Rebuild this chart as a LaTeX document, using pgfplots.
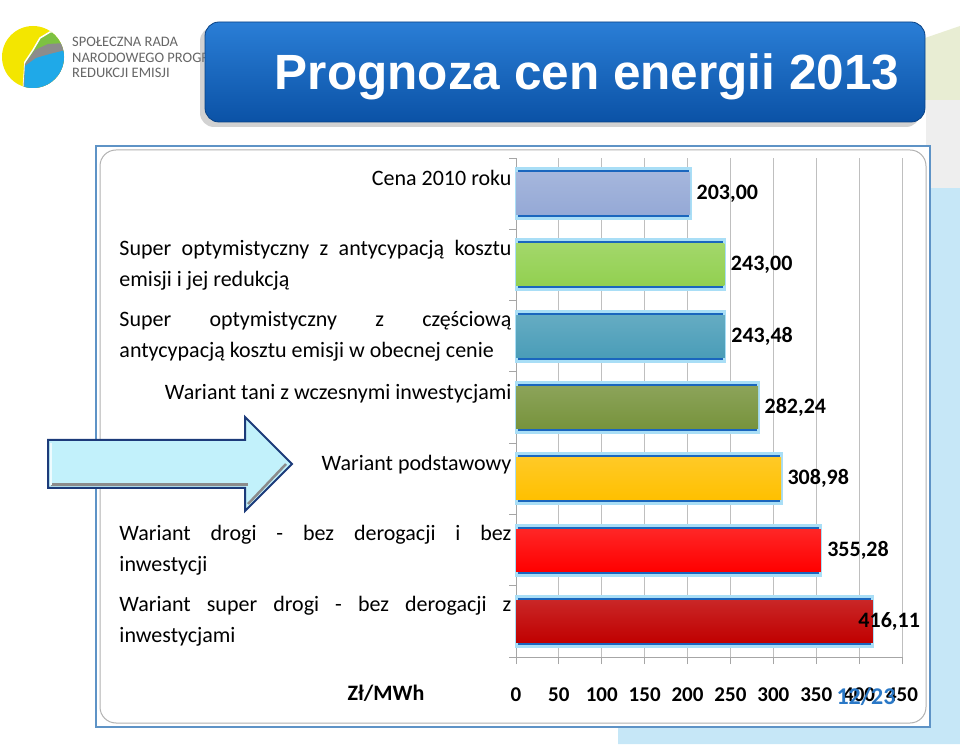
\documentclass[border=0pt]{standalone}
\usepackage{pgfplots}
\pgfplotsset{compat=1.18}
\usepackage{fontspec}
\setmainfont{Carlito}
\newfontfamily\titlefont{Liberation Sans}
\usetikzlibrary{shadows}

\definecolor{c1}{HTML}{95A9D6}
\definecolor{c2}{HTML}{92D050}
\definecolor{c3}{HTML}{4A9DB8}
\definecolor{c4}{HTML}{77933C}
\definecolor{c5}{HTML}{FFC000}
\definecolor{c6}{HTML}{FF0000}
\definecolor{c7}{HTML}{C00000}
\definecolor{barblue}{HTML}{1A66BE}
\definecolor{glow}{HTML}{A9DEF6}
\definecolor{titletop}{HTML}{2A7ED6}
\definecolor{titlebot}{HTML}{0B52A6}
\definecolor{framblue}{HTML}{5E93C6}
\definecolor{bgblue}{HTML}{C6E7F7}
\definecolor{bggray}{HTML}{EEEEEE}
\definecolor{bggreen}{HTML}{E8EDD3}
\definecolor{logoyellow}{HTML}{F3E600}
\definecolor{logoblue}{HTML}{1FA9E8}
\definecolor{logogreen}{HTML}{7DC142}
\definecolor{logogray}{HTML}{8C8C8C}
\definecolor{arrowfill}{HTML}{C2F1FB}
\definecolor{arrowdraw}{HTML}{1C3B7A}
\definecolor{pagenum}{HTML}{2A78C6}

\newcommand{\Lbl}[1]{\makebox[392pt][s]{#1}}
\newcommand{\Rbl}[1]{\makebox[392pt][r]{#1}}
\newcommand{\Fbl}[1]{\makebox[392pt][l]{#1}}

\newcommand{\mybar}[4]{%
  \addplot[fill=barblue, draw=glow, line width=3pt, bar width=0.70, forget plot] coordinates {(#2,#3)};
  \addplot[top color=#1!85!white, bottom color=#1, draw=none, bar width=0.59,
    point meta=x, nodes near coords={\pgfmathprintnumber[fixed,fixed zerofill,precision=2,use comma,assume math mode=true]{\pgfplotspointmeta}},
    nodes near coords style={font=\bfseries\fontsize{22}{22}\selectfont, anchor=west, xshift=#4, text=black}, forget plot] coordinates {(#2,#3)};
}

\begin{document}
\begin{tikzpicture}
\useasboundingbox (0pt,0pt) rectangle (960pt,744pt);
\fill[white] (0pt,0pt) rectangle (960pt,744pt);
% background decorations
\fill[bgblue] (618pt,0pt) -- (960pt,0pt) -- (960pt,556pt) -- (930pt,556pt) -- (930pt,17pt) -- (618pt,17pt) -- cycle;
\fill[bggray] (926pt,556pt) rectangle (960pt,644pt);
\fill[bggreen] (925pt,644pt) -- (960pt,644pt) -- (960pt,718pt) -- (925pt,706pt) -- cycle;

% logo
\begin{scope}
\clip (33pt,687pt) circle (31pt);
\fill[logoyellow] (0pt,650pt) rectangle (70pt,725pt);
\fill[logogreen, draw=white, line width=1.5pt] (23pt,650pt) -- (25pt,682pt) -- (33pt,694pt) -- (40pt,706pt) -- (50pt,712pt) -- (66pt,712pt) -- (66pt,650pt) -- cycle;
\fill[logogray] (25pt,680pt) -- (35pt,694pt) -- (48pt,700pt) -- (66pt,701pt) -- (66pt,650pt) -- (23pt,650pt) -- cycle;
\fill[logoblue] (25pt,678pt) -- (36pt,686pt) -- (50pt,690pt) -- (66pt,694pt) -- (66pt,650pt) -- (24pt,650pt) -- cycle;
\end{scope}
\node[anchor=west, inner sep=0pt, text=black!60, font=\fontsize{14.5}{15}\selectfont] at (72pt,702pt) {SPOŁECZNA RADA};
\node[anchor=west, inner sep=0pt, text=black!60, font=\fontsize{14.5}{15}\selectfont] at (72pt,686pt) {NARODOWEGO PROGRAMU};
\node[anchor=west, inner sep=0pt, text=black!60, font=\fontsize{14.5}{15}\selectfont] at (72pt,671pt) {REDUKCJI EMISJI};

% title box
\path[rounded corners=14pt, top color=titletop, bottom color=titlebot, draw=titlebot!80!black, line width=0.8pt,
  drop shadow={shadow xshift=-5pt, shadow yshift=-5pt, opacity=0.35}] (205pt,622pt) rectangle (925pt,722pt);
\node[anchor=base, text=white, font=\titlefont\bfseries\fontsize{49.5}{60}\selectfont] at (587pt,654pt) {Prognoza cen energii 2013};

% chart frame
\draw[framblue, line width=1.5pt, fill=white] (96pt,17pt) rectangle (930pt,598pt);
\draw[gray!60, line width=1pt, rounded corners=16pt] (100pt,21pt) rectangle (926pt,594pt);

\begin{axis}[
  at={(516pt,87pt)}, anchor=south west,
  scale only axis, width=386pt, height=499pt,
  xmin=0, xmax=450, ymin=-0.5, ymax=6.5,
  xbar, bar shift=0pt, clip=false,
  axis x line*=bottom, axis y line*=left,
  axis line style={gray!70, line width=0.9pt},
  tick align=outside, major tick length=7pt,
  tick style={gray!70, line width=0.9pt},
  xtick={0,50,...,450},
  /pgf/number format/assume math mode=true,
  /pgf/number format/fixed,
  xticklabel style={font=\bfseries\fontsize{21}{21}\selectfont, yshift=-20pt},
  xmajorgrids, grid style={gray!50, line width=0.8pt},
  ytick={-0.5,0.5,1.5,2.5,3.5,4.5,5.5,6.5},
  yticklabels={{},{},{},{},{},{},{},{}},
  extra y ticks={0,1,2,3,4,5,6},
  extra y tick labels={
    {\Lbl{Wariant super drogi - bez derogacji z}\\\Fbl{inwestycjami}},
    {\Lbl{Wariant drogi - bez derogacji i bez}\\\Fbl{inwestycji}},
    {\Rbl{Wariant podstawowy}\\\mbox{}},
    {\Rbl{Wariant tani z wczesnymi inwestycjami}\\\mbox{}},
    {\Lbl{Super optymistyczny z częściową}\\\Fbl{antycypacją kosztu emisji w obecnej cenie}},
    {\Lbl{Super optymistyczny z antycypacją kosztu}\\\Fbl{emisji i jej redukcją}},
    {\Rbl{Cena 2010 roku}\\\mbox{}}},
  extra y tick style={major tick length=0pt, grid=none,
    yticklabel style={align=left, font=\fontsize{22}{31}\selectfont, xshift=-1pt}},
]
\mybar{c1}{203.00}{6}{3pt}
\mybar{c2}{243.00}{5}{3pt}
\mybar{c3}{243.48}{4}{3pt}
\mybar{c4}{282.24}{3}{3pt}
\mybar{c5}{308.98}{2}{3pt}
\mybar{c6}{355.28}{1}{3pt}
\mybar{c7}{416.11}{0}{-18pt}
\end{axis}

\node[font=\bfseries\fontsize{22}{22}\selectfont] at (386pt,51pt) {Zł/MWh};

% arrow
\draw[fill=arrowfill, draw=arrowdraw, line width=2pt, line join=miter]
  (48pt,304pt) -- (245pt,304pt) -- (245pt,327pt) -- (292pt,280pt) -- (245pt,233pt) -- (245pt,256pt) -- (48pt,256pt) -- cycle;
\draw[black!45, line width=3pt] (51pt,259pt) -- (248pt,259pt);
\draw[black!45, line width=2.5pt] (248pt,240pt) -- (286pt,280pt);
\draw[white!70!arrowfill, line width=2pt] (51pt,259pt) -- (51pt,301pt);

% page number
\node[font=\bfseries\fontsize{24}{24}\selectfont, text=pagenum] at (866pt,47pt) {12/23};
\end{tikzpicture}
\end{document}
